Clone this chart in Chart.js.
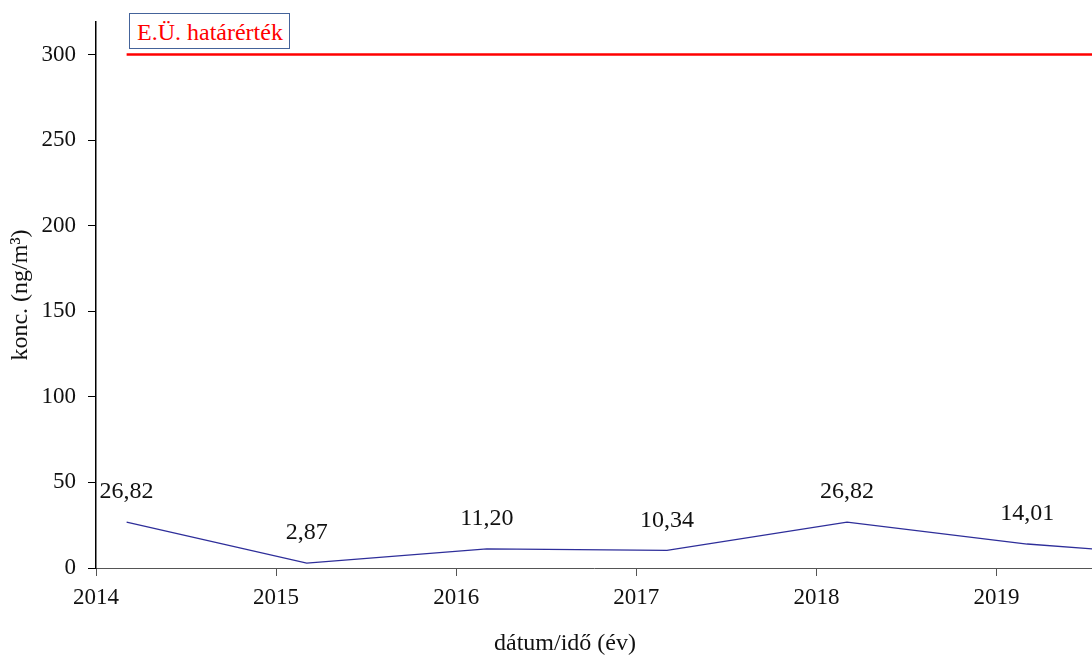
<!DOCTYPE html>
<html>
<head>
<meta charset="utf-8">
<script src="https://cdn.jsdelivr.net/npm/chart.js@4/dist/chart.umd.min.js"></script>
<style>
  body { margin: 0; background: #fff; }
  #wrap { position: relative; width: 1092px; height: 655px; overflow: hidden; }
  #limitLegend {
    position: absolute; left: 129px; top: 13px; width: 161px; height: 36px;
    border: 1px solid #44639a; background: #fff;
    font-family: "Liberation Serif", serif; font-size: 24px; color: #ff0000;
    line-height: 36px; padding-left: 7px; box-sizing: border-box;
  }
</style>
</head>
<body>
<div id="wrap">
  <canvas id="concChart" width="1092" height="655"></canvas>
  <div id="limitLegend">E.Ü. határérték</div>
</div>
<script>
// mérési időpontok (év) és koncentrációk
const measureYears = [2014.17, 2015.17, 2016.17, 2017.17, 2018.17, 2019.17, 2020.17]
const concValues = [26.82, 2.87, 11.20, 10.34, 26.82, 14.01, 6.0]
const limitYears = [2014.17, 2020.6]
const limitValues = [300, 300]
const xTickYears = [2014, 2015, 2016, 2017, 2018, 2019]
const yTickValues = [0, 50, 100, 150, 200, 250, 300]

const fontFamily = '"Liberation Serif", "Times New Roman", serif'

const concPoints = measureYears.map((yr, i) => ({x: yr, y: concValues[i]}))
const limitPoints = limitYears.map((yr, i) => ({x: yr, y: limitValues[i]}))

// értékek kiírása a pontok fölé, plusz az x tengely címe (kicsit balra tolva, mint az eredetin)
const valueLabels = {
    id: 'valueLabels',
    afterDraw(chart) {
        const ctx = chart.ctx
        const meta = chart.getDatasetMeta(0)
        const area = chart.chartArea
        ctx.save()
        ctx.font = '24px ' + fontFamily
        ctx.fillStyle = '#111'
        ctx.textAlign = 'center'
        ctx.textBaseline = 'middle'
        meta.data.forEach((pt, i) => {
            if (pt.x > area.right) return
            ctx.fillText(concValues[i].toFixed(2).replace('.', ','), pt.x, pt.y - 30)
        })
        ctx.fillText('dátum/idő (év)', 565, 644)
        ctx.restore()
    }
}

const ctxChart = document.getElementById('concChart')

new Chart(ctxChart, {
    type: 'line',
    data: {
        datasets: [{
            label: 'konc.',
            data: concPoints,
            borderColor: '#2e2e9a',
            borderWidth: 1.3,
            pointRadius: 0,
            tension: 0
        }, {
            label: 'E.Ü. határérték',
            data: limitPoints,
            borderColor: '#ff0000',
            borderWidth: 2.5,
            pointRadius: 0
        }]
    },
    options: {
        responsive: false,
        animation: false,
        layout: {padding: {top: 22, right: 0, left: 0, bottom: 0}},
        plugins: {
            legend: {display: false},
            tooltip: {enabled: false}
        },
        scales: {
            x: {
                type: 'linear',
                min: 2014,
                max: 2019.53,
                afterBuildTicks: (scale) => {
                    scale.ticks = xTickYears.map(v => ({value: v}))
                },
                afterFit: (scale) => { scale.height = 87 },
                ticks: {
                    font: {family: fontFamily, size: 23},
                    color: '#111',
                    padding: 8,
                    maxRotation: 0,
                    callback: (v) => String(v)
                },
                grid: {display: true, drawOnChartArea: false, drawTicks: true, tickLength: 8, color: '#555'},
                border: {display: true, color: '#555', width: 1}
            },
            y: {
                min: 0,
                max: 319,
                afterBuildTicks: (scale) => {
                    scale.ticks = yTickValues.map(v => ({value: v}))
                },
                afterFit: (scale) => {
                    scale.width = 96
                    scale.paddingTop = 0
                    scale.paddingBottom = 0
                },
                ticks: {
                    font: {family: fontFamily, size: 23},
                    color: '#111',
                    padding: 12
                },
                grid: {display: true, drawOnChartArea: false, drawTicks: true, tickLength: 8, color: '#000'},
                border: {display: true, color: '#000', width: 1.5},
                title: {
                    display: true,
                    text: 'konc. (ng/m³)',
                    font: {family: fontFamily, size: 24},
                    color: '#111',
                    padding: {top: 6, bottom: 0}
                }
            }
        }
    },
    plugins: [valueLabels]
})
</script>
</body>
</html>
